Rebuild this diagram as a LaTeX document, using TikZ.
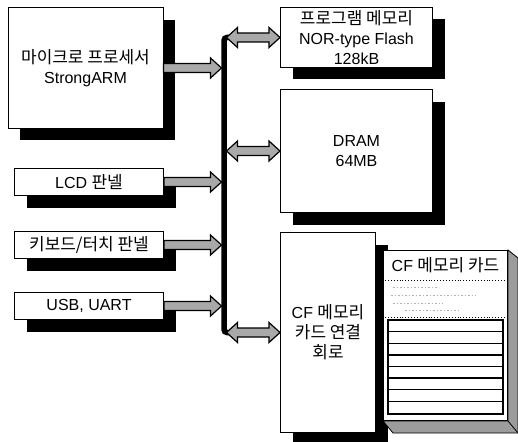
\documentclass[tikz,border=0pt]{standalone}
\usepackage{fontspec}
\setmainfont{Liberation Sans}
\newfontfamily\kr[Scale=1.06]{Noto Sans CJK KR}
\usetikzlibrary{positioning,calc,shadows}
\definecolor{arrowgray}{HTML}{A9A9A9}
\definecolor{sidegray}{HTML}{9C9C9C}
\tikzset{
  blk/.style={draw, line width=1pt, fill=white, align=center, inner sep=1pt,
    font=\fontsize{16}{20}\selectfont,
    drop shadow={shadow xshift=12pt, shadow yshift=-12pt, fill=black, opacity=1}},
  io/.style={blk, minimum width=149pt, minimum height=27pt},
  barrow/.style={draw=black, line width=1.2pt, fill=arrowgray, line join=miter},
  bus/.style={line width=5.5pt, rounded corners=3pt},
  side/.style={draw=black, line width=.8pt, fill=sidegray},
  ruled/.style={line width=1.4pt},
  fine/.style={draw=gray!60, line width=.6pt, dash pattern=on 1.5pt off 2pt},
}
% horizontal block arrows, from #1 to #2
\newcommand{\onearrow}[2]{%
  \filldraw[barrow] let \p1=(#1), \p2=(#2) in
    (\x1,\y1+4.5pt) -- (\x2-11pt,\y1+4.5pt) -- (\x2-11pt,\y1+10pt) -- (\x2,\y1)
    -- (\x2-11pt,\y1-10pt) -- (\x2-11pt,\y1-4.5pt) -- (\x1,\y1-4.5pt) -- cycle;}
\newcommand{\twoarrow}[2]{%
  \filldraw[barrow] let \p1=(#1), \p2=(#2) in
    (\x1,\y1) -- (\x1+11pt,\y1+10pt) -- (\x1+11pt,\y1+4.5pt) -- (\x2-11pt,\y1+4.5pt)
    -- (\x2-11pt,\y1+10pt) -- (\x2,\y1) -- (\x2-11pt,\y1-10pt) -- (\x2-11pt,\y1-4.5pt)
    -- (\x1+11pt,\y1-4.5pt) -- (\x1+11pt,\y1-10pt) -- cycle;}
\begin{document}
\begin{tikzpicture}[x=1pt, y=-1pt]
  \useasboundingbox (0,0) rectangle (518,441);
  % left column
  \node[blk, minimum width=155pt, minimum height=120pt] (cpu) at (85.5,68) {{\kr 마이크로 프로세서}\\StrongARM};
  \node[io, anchor=north west] (lcd) at (14,168) {LCD {\kr 판넬}};
  \node[io, below=35pt of lcd] (key) {{\kr 키보드/터치 판넬}};
  \node[io, below=33pt of key] (usb) {USB, UART};
  % right column
  \node[blk, minimum width=152pt, minimum height=60pt, anchor=north west] (flash) at (280,7) {{\kr 프로그램 메모리}\\NOR-type Flash\\128kB};
  \node[blk, minimum width=152pt, minimum height=123pt, below=21pt of flash] (dram) {DRAM\\64MB};
  \node[blk, minimum width=95pt, minimum height=200pt, below=19pt of dram.south west, anchor=north west] (cfc) {CF {\kr 메모리}\\{\kr 카드 연결}\\{\kr 회로}};
  % bus
  \coordinate (bx) at (224,0);
  \coordinate (bxl) at (221.5,0);
  \coordinate (bxr) at (226.5,0);
  \draw[bus] ($(bx |- flash.west)+(6,0)$) -- (bx |- flash.west) -- (bx |- cfc.west) -- ++(6,0);
  \onearrow{cpu.east}{bxl |- cpu.east}
  \onearrow{lcd.east}{bxl |- lcd.east}
  \onearrow{key.east}{bxl |- key.east}
  \onearrow{usb.east}{bxl |- usb.east}
  \twoarrow{bxr |- flash.west}{flash.west}
  \twoarrow{bxr |- dram.west}{dram.west}
  \twoarrow{bxr |- cfc.west}{cfc.west}
  % memory card
  \node[draw, line width=1pt, fill=white, minimum width=124pt, minimum height=170pt, inner sep=0pt, anchor=north west] (card) at (383,250) {};
  \filldraw[side] (card.north east) -- ++(10,8) -- ($(card.south east)+(10,12)$) -- ($(card.south west)+(10,12)$)
    -- (card.south west) -- (card.south east) -- cycle;
  \draw[line width=.8pt] (card.south east) -- ++(10,12);
  \node[font=\fontsize{16}{20}\selectfont, below=4pt of card.north] (cardtitle) {CF {\kr 메모리 카드}};
  \draw[dotted, line width=.9pt] ($(card.north west)+(2,30)$) -- ($(card.north east)+(-2,30)$);
  \draw[dotted, line width=.9pt] ($(card.north west)+(2,67)$) -- ($(card.north east)+(-2,67)$);
  \draw[fine] ($(card.north west)+(10,37)$) -- ++(45,0);
  \draw[fine] ($(card.north west)+(8,45)$) -- ++(85,0);
  \draw[fine] ($(card.north west)+(10,53)$) -- ++(50,0);
  \draw[fine] ($(card.north west)+(22,60)$) -- ++(55,0);
  \draw[ruled] ($(card.north west)+(5,70)$) rectangle ($(card.south east)+(-5,-7)$);
  \foreach \k in {1,...,7}
    \draw[ruled] ($(card.north west)+(5,70+\k*11.6)$) -- ($(card.north east)+(-5,70+\k*11.6)$);
\end{tikzpicture}
\end{document}
